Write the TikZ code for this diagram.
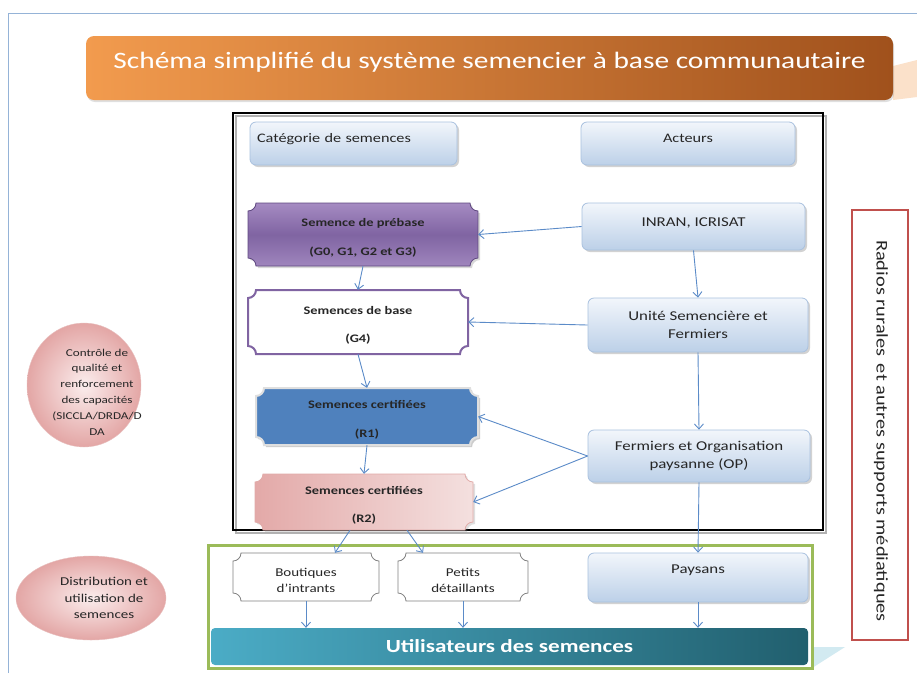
\documentclass[tikz,border=0pt]{standalone}
\usepackage{fontspec}
\setmainfont[FakeStretch=1.25]{Carlito}
\usetikzlibrary{arrows.meta,shadows,calc,shapes.geometric}
\definecolor{frameB}{HTML}{95B3D7}
\definecolor{actT}{HTML}{F2F6FB}
\definecolor{actBt}{HTML}{BCD0E8}
\definecolor{actB}{HTML}{A9C1DF}
\definecolor{txt}{HTML}{262626}
\definecolor{arrC}{HTML}{5B8BC8}
\definecolor{orL}{HTML}{F29B4E}
\definecolor{orD}{HTML}{A0511C}
\definecolor{puT}{HTML}{A58BC2}
\definecolor{puM}{HTML}{8064A2}
\definecolor{puB}{HTML}{9F85BD}
\definecolor{puD}{HTML}{5F4880}
\definecolor{blR}{HTML}{4F81BD}
\definecolor{pkT}{HTML}{E3A9A8}
\definecolor{pkB}{HTML}{F4E0DF}
\definecolor{pkD}{HTML}{D99694}
\definecolor{elI}{HTML}{FBEDED}
\definecolor{elO}{HTML}{E3A6A5}
\definecolor{grF}{HTML}{9BBB59}
\definecolor{tlL}{HTML}{4BACC6}
\definecolor{tlD}{HTML}{215F6E}
\definecolor{rdF}{HTML}{C0504D}
\tikzset{
 actor/.style={draw=actB, line width=0.8pt, rounded corners=6, top color=actT, bottom color=actBt,
   drop shadow={shadow xshift=2pt,shadow yshift=-2pt,opacity=.35}, text=txt,
   font=\fontsize{13.5}{18}\selectfont, align=center, inner sep=2pt},
 plq/.style={inner sep=0pt, align=center, font=\bfseries\fontsize{11.5}{13}\selectfont, text=txt},
 plqsmall/.style={inner sep=0pt, align=center, font=\fontsize{12}{16}\selectfont, text=txt},
 arr/.style={draw=arrC, line width=0.9pt, -{Straight Barb[length=5pt,width=9pt]}},
 oval/.style={ellipse, draw=pkD!60, inner color=elI, outer color=elO, inner sep=0pt},
 ovaltext/.style={text=txt, align=center, inner sep=0pt},
}
% plaque: name, x, y, w, h, shape style, text style, text
\newcommand\plaquenode[8]{%
 \pgfmathsetmacro\xa{#2-#4/2}\pgfmathsetmacro\xb{#2+#4/2}%
 \pgfmathsetmacro\ya{#3-#5/2}\pgfmathsetmacro\yb{#3+#5/2}%
 \path[#6] (\xa,\ya+8) .. controls (\xa+4.4,\ya+8) and (\xa+8,\ya+4.4) .. (\xa+8,\ya)
  -- (\xb-8,\ya) .. controls (\xb-8,\ya+4.4) and (\xb-4.4,\ya+8) .. (\xb,\ya+8)
  -- (\xb,\yb-8) .. controls (\xb-4.4,\yb-8) and (\xb-8,\yb-4.4) .. (\xb-8,\yb)
  -- (\xa+8,\yb) .. controls (\xa+8,\yb-4.4) and (\xa+4.4,\yb-8) .. (\xa,\yb-8) -- cycle;
 \node[inner sep=0pt, minimum width=#4, minimum height=#5] (#1) at (#2,#3) {};
 \node[#7] (#1-t) at (#2,#3+3.5) {#8};
}
\begin{document}
\begin{tikzpicture}[x=1pt,y=-1pt]
\useasboundingbox (0,0) rectangle (917,673);
\fill[white] (0,0) rectangle (917,673);
% outer frame
\draw[frameB, line width=1pt] (8,673) -- (8,13) -- (917,13);
% faint decorations
\fill[orL!30] (893,66) -- (917,60) -- (917,97) -- (893,100) -- cycle;
\fill[tlL!25] (812,647) -- (845,647) -- (812,668) -- cycle;
% title
\node[rounded corners=8, left color=orL, right color=orD, minimum width=807, minimum height=64,
  text=white, font=\fontsize{23.5}{28}\selectfont, text height=16pt, text depth=16pt,
  drop shadow={shadow xshift=1pt,shadow yshift=-2pt,opacity=.25}]
  (title) at (489.5,68) {Schéma simplifié du système semencier à base communautaire};
% black frame
\draw[gray!60, line width=2.5pt] (236,116) rectangle (826,533);
\node[draw=black, line width=2.5pt, minimum width=590, minimum height=417, inner sep=0pt] (bframe) at (528,321.5) {};
% green frame
\node[draw=grF, line width=3pt, minimum width=604, minimum height=123, inner sep=0pt] (gframe) at (510,606.5) {};
% headers
\node[actor, font=\fontsize{13}{16}\selectfont, minimum width=207, minimum height=43, text width=193, align=left, text height=10pt, text depth=13pt] (cat) at (353.5,143.5) {Catégorie de semences};
\node[actor, font=\fontsize{13}{16}\selectfont, minimum width=214, minimum height=43, text height=10pt, text depth=13pt] (act) at (688,143.5) {Acteurs};
% actors
\node[actor, minimum width=223, minimum height=47, text height=10pt, text depth=11pt] (inran) at (693.5,226.5) {INRAN, ICRISAT};
\node[actor, minimum width=220, minimum height=54] (unite) at (698,325) {Unité Semencière et\\Fermiers};
\node[actor, minimum width=222, minimum height=52] (ferm) at (699,456) {Fermiers et Organisation\\paysanne (OP)};
\node[actor, minimum width=220, minimum height=49, text height=10pt, text depth=19pt] (pays) at (698,577.5) {Paysans};
% plaques
\plaquenode{preb}{363}{234.5}{230}{63}{draw=puD, line width=0.8pt, top color=puT, bottom color=puB, middle color=puM, drop shadow={shadow xshift=2pt,shadow yshift=-2pt,opacity=.3}}{plq}{Semence de prébase\\[16.5pt](G0, G1, G2 et G3)}
\plaquenode{base}{358}{322}{220}{64}{draw=puM, line width=2pt, fill=white}{plq}{Semences de base\\[15.5pt](G4)}
\plaquenode{r1}{367}{416.5}{222}{57}{draw=gray!25, line width=2pt, fill=blR, drop shadow={shadow xshift=2pt,shadow yshift=-2pt,opacity=.4}}{plq}{Semences certifiées\\[15.5pt](R1)}
\plaquenode{r2}{364}{502}{218}{56}{draw=pkD!80, line width=0.8pt, left color=pkT, right color=pkB, drop shadow={shadow xshift=2pt,shadow yshift=-2pt,opacity=.25}}{plq}{Semences certifiées\\[15.5pt](R2)}
\plaquenode{bout}{306}{577}{146}{48}{draw=gray, line width=0.8pt, fill=white}{plqsmall}{Boutiques\\d’intrants}
\plaquenode{pet}{463}{577}{130}{48}{draw=gray, line width=0.8pt, fill=white}{plqsmall}{Petits\\détaillants}
% ellipses
\node[oval, minimum width=114, minimum height=124] (ctrl) at (84,385) {};
\node[ovaltext, font=\fontsize{10.5}{15.8}\selectfont] (ctrl-t) at (97,392) {Contrôle de\\qualité et\\renforcement\\des capacités\\(SICCLA/DRDA/D\\DA};
\node[oval, minimum width=150, minimum height=84] (distr) at (91,598) {};
\node[ovaltext, font=\fontsize{12}{16.5}\selectfont] (distr-t) at (104,598) {Distribution et\\utilisation de\\semences};
% users bar
\node[rounded corners=4, left color=tlL, right color=tlD, minimum width=597, minimum height=37,
  text=white, font=\bfseries\fontsize{18.5}{22}\selectfont] (util) at (509.5,646.5) {Utilisateurs des semences};
% radios
\node[draw=rdF, line width=1.8pt, minimum width=56, minimum height=430, inner sep=0pt] (radio) at (880,425) {};
\node[rotate=-90, text=txt, font=\fontsize{16.3}{20}\selectfont] (radiotxt) at (881,431) {Radios rurales\, et autres supports médiatiques};
% arrows
\draw[arr] (inran.west) -- (preb.east);
\draw[arr] (inran.south) -- (unite.north);
\draw[arr] (unite.west) -- (base.east);
\draw[arr] (unite.south) -- (ferm.north);
\draw[arr] (ferm.west) -- (r1.east);
\draw[arr] (ferm.west) -- (r2.east);
\draw[arr] (ferm.south) -- (pays.north);
\draw[arr] (preb.south) -- (base.north);
\draw[arr] (base.south) -- (r1.north);
\draw[arr] (r1.south) -- (r2.north);
\draw[arr] ($(r2.south)+(-14,0)$) -- ($(bout.north)+(29,0)$);
\draw[arr] ($(r2.south)+(43,0)$) -- ($(pet.north)+(-40,0)$);
\draw[arr] (bout.south) -- (bout.south |- util.north);
\draw[arr] (pet.south) -- (pet.south |- util.north);
\draw[arr] (pays.south) -- (pays.south |- util.north);
\end{tikzpicture}
\end{document}
